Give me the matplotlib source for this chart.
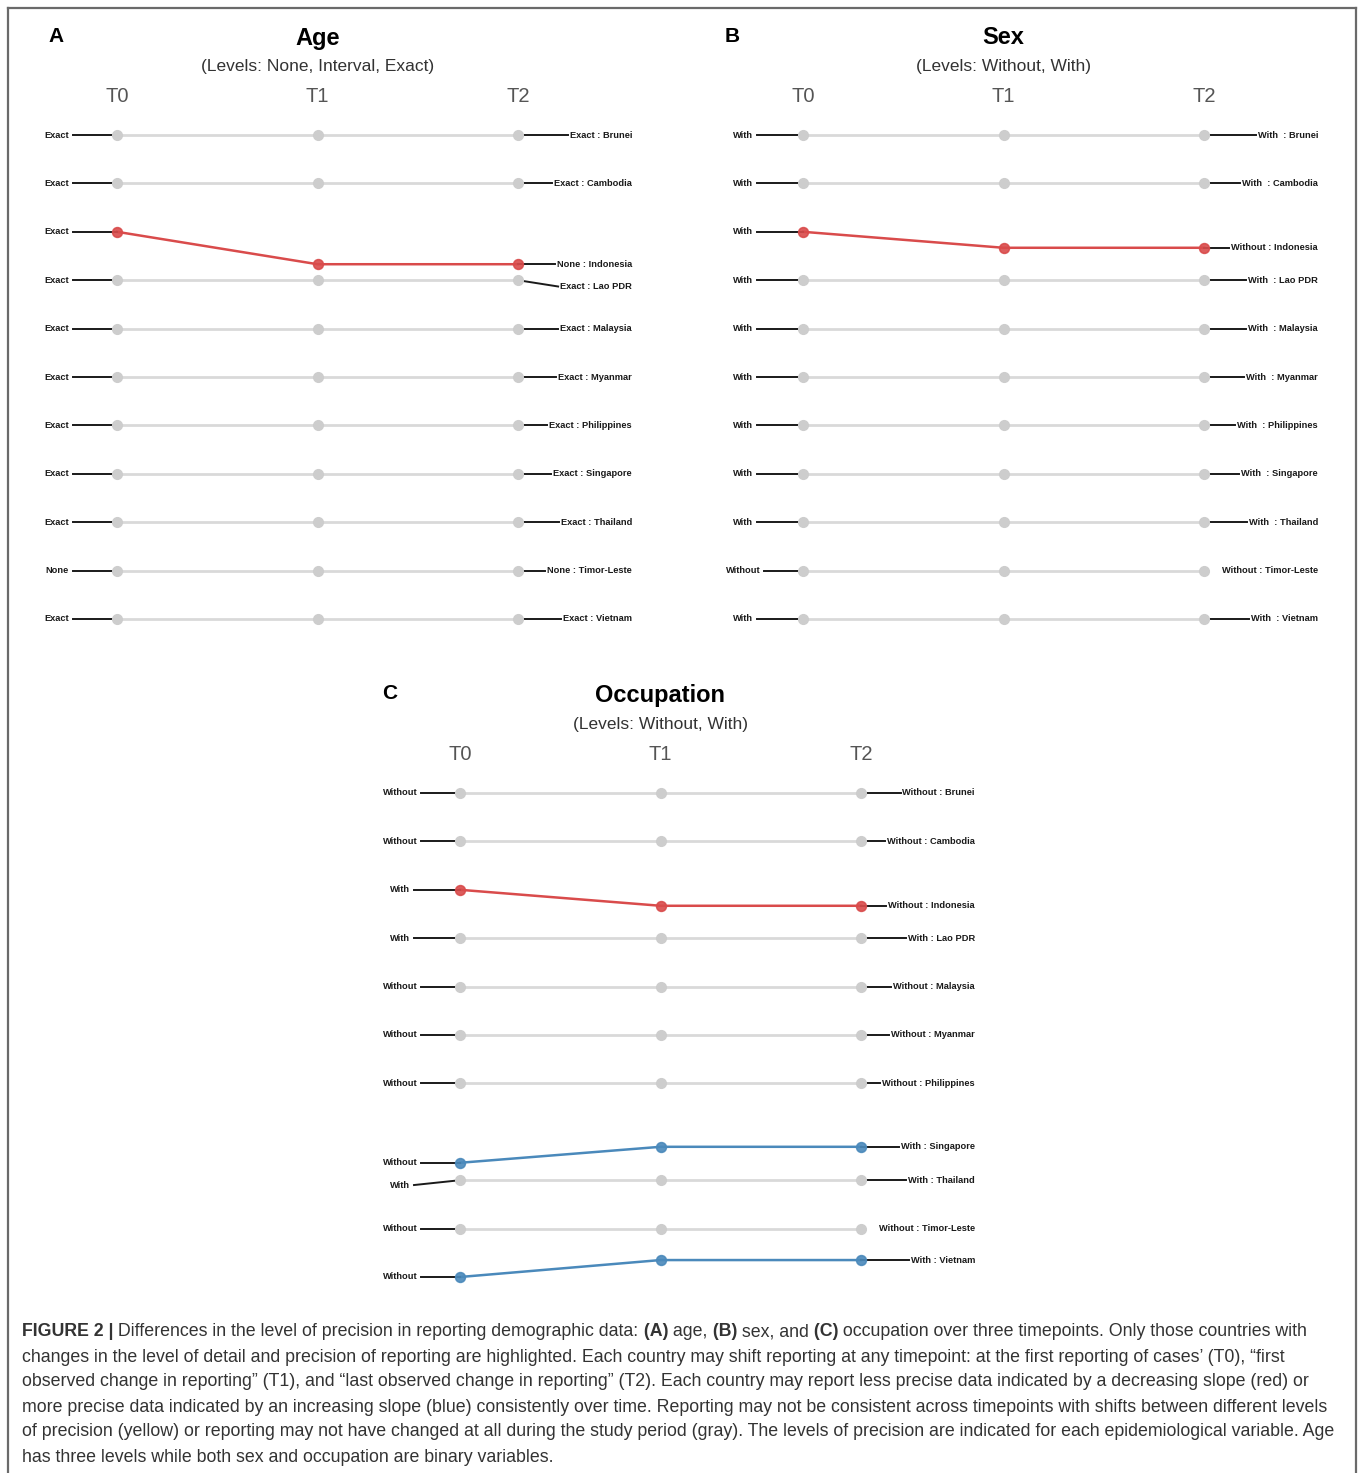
import matplotlib
matplotlib.use("Agg")
from matplotlib import pyplot as plt
from matplotlib.lines import Line2D

W, H = 1358, 1473
XS, YS = 200.5, 48.4   # pixels per timepoint / per row

plt.rcParams['font.family'] = ['Liberation Sans', 'DejaVu Sans']

countries = ["Brunei", "Cambodia", "Indonesia", "Lao PDR", "Malaysia", "Myanmar",
             "Philippines", "Singapore", "Thailand", "Timor-Leste", "Vietnam"]
timepoints = ["T0", "T1", "T2"]

# Age
age_levels = ["None", "Interval", "Exact"]
age_start = ["Exact", "Exact", "Exact", "Exact", "Exact", "Exact",
             "Exact", "Exact", "Exact", "None", "Exact"]
age_end = ["Exact", "Exact", "None", "Exact", "Exact", "Exact",
           "Exact", "Exact", "Exact", "None", "Exact"]
age_y_t0 = [0, 1, 2, 3, 4, 5, 6, 7, 8, 9, 10]
age_y_t1 = [0, 1, 2.67, 3, 4, 5, 6, 7, 8, 9, 10]
age_y_t2 = [0, 1, 2.67, 3, 4, 5, 6, 7, 8, 9, 10]

# Sex
sex_levels = ["Without", "With"]
sex_start = ["With", "With", "With", "With", "With", "With",
             "With", "With", "With", "Without", "With"]
sex_end = ["With", "With", "Without", "With", "With", "With",
           "With", "With", "With", "Without", "With"]
sex_y_t0 = [0, 1, 2, 3, 4, 5, 6, 7, 8, 9, 10]
sex_y_t1 = [0, 1, 2.33, 3, 4, 5, 6, 7, 8, 9, 10]
sex_y_t2 = [0, 1, 2.33, 3, 4, 5, 6, 7, 8, 9, 10]

# Occupation
occ_levels = ["Without", "With"]
occ_start = ["Without", "Without", "With", "With", "Without", "Without",
             "Without", "Without", "With", "Without", "Without"]
occ_end = ["Without", "Without", "Without", "With", "Without", "Without",
           "Without", "With", "With", "Without", "With"]
occ_y_t0 = [0, 1, 2, 3, 4, 5, 6, 7.64, 8, 9, 10]
occ_y_t1 = [0, 1, 2.33, 3, 4, 5, 6, 7.31, 8, 9, 9.65]
occ_y_t2 = [0, 1, 2.33, 3, 4, 5, 6, 7.31, 8, 9, 9.65]

GRAY_LINE = "#d9d9d9"
GRAY_DOT = "#cdcdcd"
RED = "#d94b4b"
BLUE = "#4a89bb"
INK = "#1a1a1a"
LABEL_SIZE = 6.7

fig = plt.figure(figsize=(W / 100, H / 100), dpi=100)
renderer = fig.canvas.get_renderer()


def repel(ys, gap=0.46):
    out = list(ys)
    order = sorted(range(len(ys)), key=lambda k: ys[k])
    for a, b in zip(order[:-1], order[1:]):
        if out[b] - out[a] < gap:
            out[b] = out[a] + gap
    return out


def draw_panel(letter, title, sub, t0_px, row0_px, letter_px,
               levels, start, end, y0, y1, y2, pad=""):
    left, right, top, bottom = t0_px - 110, t0_px + 2 * XS + 130, row0_px - 120, row0_px + 10 * YS + 30
    ax = fig.add_axes([left / W, 1 - bottom / H, (right - left) / W, (bottom - top) / H])
    ax.set_xlim(-110 / XS, 2 + 130 / XS)
    ax.set_ylim((bottom - row0_px) / YS, (top - row0_px) / YS)
    ax.axis('off')
    inv = ax.transData.inverted()
    rank = {lv: k for k, lv in enumerate(levels)}

    ax.text(1, -97 / YS, title, ha='center', va='center', fontsize=17, fontweight='bold')
    ax.text(1, -68 / YS, sub, ha='center', va='center', fontsize=12.5, color="#333333")
    for k, tp in enumerate(timepoints):
        ax.text(k, -38 / YS, tp, ha='center', va='center', fontsize=14.5, color="#555555")
    ax.text((letter_px - t0_px) / XS, -99 / YS, letter, ha='center', va='center',
            fontsize=15, fontweight='bold')

    for i in range(len(countries)):
        ys = [y0[i], y1[i], y2[i]]
        diff = rank[end[i]] - rank[start[i]]
        if diff == 0:
            ax.plot([0, 1, 2], ys, color=GRAY_LINE, lw=2, zorder=1)
            ax.plot([0, 1, 2], ys, 'o', ms=7, color=GRAY_DOT, mec=GRAY_DOT, zorder=4)
        else:
            col = RED if diff < 0 else BLUE
            ax.plot([0, 1, 2], ys, color=col, lw=1.8, zorder=2)
            ax.plot([0, 1, 2], ys, 'o', ms=7, color=col, mec=col, mew=1.2,
                    alpha=0.9, zorder=5)

    ly = repel(y0)
    for i in range(len(countries)):
        t = ax.text(-60 / XS, ly[i], start[i], ha='center', va='center',
                    fontsize=LABEL_SIZE, fontweight='bold', color=INK)
        bb = t.get_window_extent(renderer)
        xr = inv.transform((bb.x1, bb.y0))[0] + 4 / XS
        ax.plot([xr, 0], [ly[i], y0[i]], color=INK, lw=1.4, zorder=3)

    ry = repel(y2)
    for i, c in enumerate(countries):
        lv = end[i] + (pad if end[i] == "With" else "")
        t = ax.text(2 + 114 / XS, ry[i], f"{lv} : {c}", ha='right', va='center',
                    fontsize=LABEL_SIZE, fontweight='bold', color=INK)
        bb = t.get_window_extent(renderer)
        xl = inv.transform((bb.x0, bb.y0))[0] - 2 / XS
        if (xl - 2) * XS > 18:
            ax.plot([2, xl], [y2[i], ry[i]], color=INK, lw=1.4, zorder=3)


draw_panel("A", "Age", "(Levels: None, Interval, Exact)", 117, 135, 56,
           age_levels, age_start, age_end, age_y_t0, age_y_t1, age_y_t2)
draw_panel("B", "Sex", "(Levels: Without, With)", 803, 135, 732,
           sex_levels, sex_start, sex_end, sex_y_t0, sex_y_t1, sex_y_t2, pad=" ")
draw_panel("C", "Occupation", "(Levels: Without, With)", 460, 793, 390,
           occ_levels, occ_start, occ_end, occ_y_t0, occ_y_t1, occ_y_t2)

# frame
for xs, ys in [([8, 8], [8, H]), ([8, 1356], [8, 8]), ([1356, 1356], [8, H])]:
    fig.add_artist(Line2D([x / W for x in xs], [1 - y / H for y in ys],
                          color="#6a6a6a", lw=1.6))

caption = [
    [("FIGURE 2 |", True), (" Differences in the level of precision in reporting demographic data:", False),
     (" (A)", True), (" age,", False), (" (B)", True), (" sex, and", False), (" (C)", True),
     (" occupation over three timepoints. Only those countries with", False)],
    [("changes in the level of detail and precision of reporting are highlighted. Each country may shift "
      "reporting at any timepoint: at the first reporting of cases\u2019 (T0), \u201cfirst", False)],
    [("observed change in reporting\u201d (T1), and \u201clast observed change in reporting\u201d (T2). "
      "Each country may report less precise data indicated by a decreasing slope (red) or", False)],
    [("more precise data indicated by an increasing slope (blue) consistently over time. Reporting may not "
      "be consistent across timepoints with shifts between different levels", False)],
    [("of precision (yellow) or reporting may not have changed at all during the study period (gray). "
      "The levels of precision are indicated for each epidemiological variable. Age", False)],
    [("has three levels while both sex and occupation are binary variables.", False)],
]


def text_width(s, **kw):
    a = fig.text(0, 0, "|" + s + "|", **kw)
    b = fig.text(0, 0, "||", **kw)
    w = a.get_window_extent(renderer).width - b.get_window_extent(renderer).width
    a.remove()
    b.remove()
    return w


cap_kw = dict(fontsize=12.8, color="#333333")
for n, line in enumerate(caption):
    x = 22
    y = 1332 + 25 * n
    for s, bold in line:
        kw = dict(cap_kw, fontweight='bold' if bold else 'normal')
        fig.text(x / W, 1 - y / H, s, ha='left', va='center', **kw)
        x += text_width(s, **kw)

fig.savefig("out.png", dpi=100)
